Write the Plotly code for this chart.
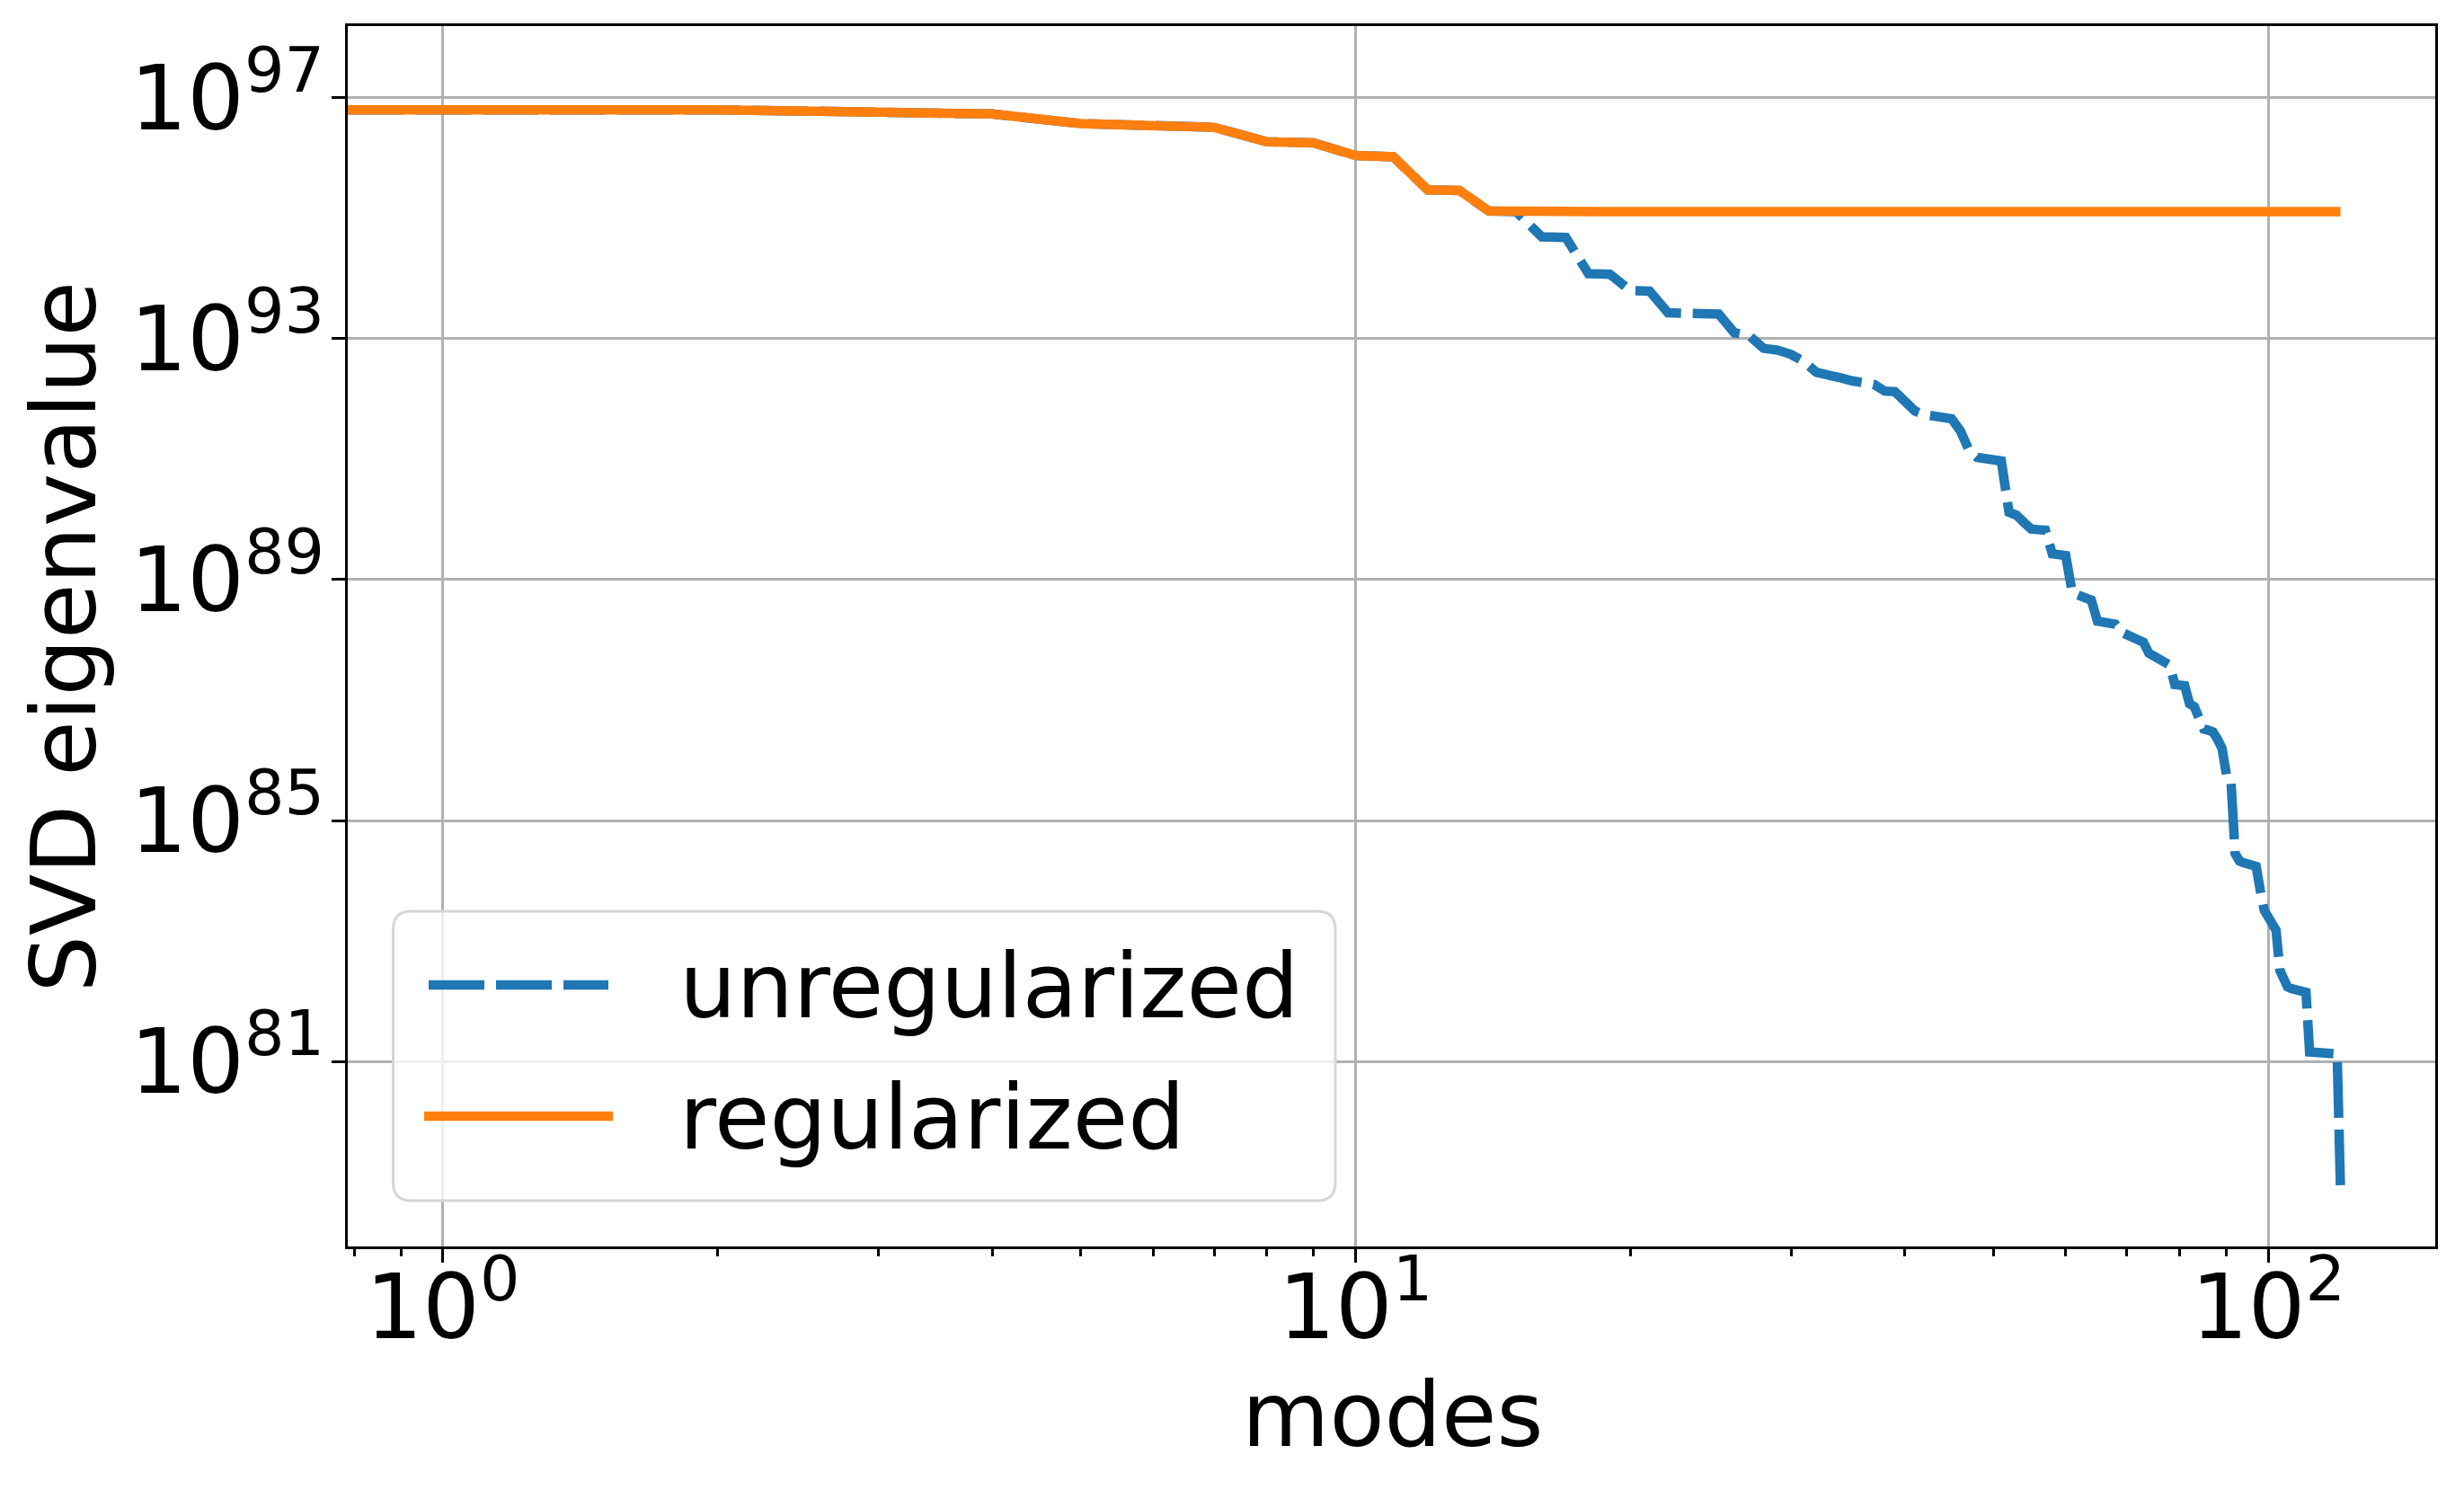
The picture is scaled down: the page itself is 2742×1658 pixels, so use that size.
import numpy as np
import plotly.graph_objects as go

# log10 of the SVD eigenvalues, modes 1..120
log_unreg = [
    96.80, 96.80, 96.76, 96.73, 96.57, 96.53, 96.51, 96.27, 96.25, 96.04,  # 1-10
    96.02, 95.47, 95.46, 95.12, 95.11, 94.69, 94.68, 94.08, 94.07, 93.80,  # 11-20
    93.79, 93.43, 93.42, 93.42, 93.41, 93.10, 93.05, 92.84, 92.81, 92.74,  # 21-30
    92.62, 92.44, 92.41, 92.35, 92.30, 92.27, 92.24, 92.13, 92.12, 91.96,  # 31-40
    91.80, 91.74, 91.72, 91.70, 91.67, 91.47, 91.15, 91.03, 91.00, 90.98,  # 41-50
    90.97, 90.12, 90.07, 89.95, 89.84, 89.83, 89.82, 89.43, 89.41, 89.40,  # 51-60
    88.78, 88.74, 88.70, 88.66, 88.31, 88.29, 88.27, 88.26, 88.13, 88.09,  # 61-70
    88.06, 88.00, 87.96, 87.78, 87.72, 87.68, 87.64, 87.58, 87.26, 87.25,  # 71-80
    87.24, 86.94, 86.89, 86.70, 86.52, 86.50, 86.47, 86.35, 86.20, 85.76,  # 81-90
    85.70, 84.45, 84.33, 84.30, 84.28, 84.26, 84.24, 83.85, 83.51, 83.40,  # 91-100
    83.25, 83.18, 82.51, 82.35, 82.24, 82.21, 82.19, 82.17, 82.16, 82.15,  # 101-110
    81.16, 81.16, 81.15, 81.15, 81.15, 81.14, 81.14, 81.13, 81.12, 78.88,  # 111-120
]
reg_floor = 95.11  # regularized spectrum is cut off here

y_ticks = [81, 85, 89, 93, 97]
x_ticks = [0, 1, 2]

X_RANGE = [-0.104, 2.183]
Y_RANGE = [77.93, 98.19]

FONT = "DejaVu Sans"
BLUE = "#1f77b4"
ORANGE = "#ff7f0e"
DASH = "62px,13px"
LW = 10.5

modes = np.arange(1, len(log_unreg) + 1)
unreg = 10.0 ** np.array(log_unreg)
reg = np.maximum(unreg, 10.0 ** reg_floor)

# matplotlib drew the curve right up to the left spine, do the same
x_plot = np.concatenate([[10.0 ** X_RANGE[0]], modes])
unreg_plot = np.concatenate([[unreg[0]], unreg])
reg_plot = np.concatenate([[reg[0]], reg])

fig = go.Figure()
fig.add_trace(go.Scatter(x=x_plot, y=unreg_plot, mode="lines", name="unregularized",
                         line=dict(color=BLUE, width=LW, dash=DASH), showlegend=False))
fig.add_trace(go.Scatter(x=x_plot, y=reg_plot, mode="lines", name="regularized",
                         line=dict(color=ORANGE, width=LW), showlegend=False))

W, H = 2742, 1658
L, R, T, B = 387, 32, 29, 271


def px(xp):
    return (xp - L) / (W - L - R)


def py(yp):
    return (H - B - yp) / (H - T - B)


axis_common = dict(
    type="log", showgrid=True, gridcolor="#b0b0b0", gridwidth=3,
    showline=True, linecolor="black", linewidth=3, mirror=True,
    ticks="outside", ticklen=15, tickwidth=3, tickcolor="black",
    tickfont=dict(family=FONT, size=100, color="black"),
    zeroline=False, automargin=False,
)

fig.update_layout(
    width=W, height=H,
    margin=dict(l=L, r=R, t=T, b=B),
    plot_bgcolor="white", paper_bgcolor="white",
    font=dict(family=FONT, size=100, color="black"),
    xaxis=dict(
        axis_common, range=X_RANGE,
        tickvals=[10.0 ** k for k in x_ticks],
        ticktext=["10<sup>%d</sup>" % k for k in x_ticks],
        ticklabelstandoff=-36,
        minor=dict(ticks="outside", ticklen=8, tickwidth=2.5, tickcolor="black",
                   dtick="D1", showgrid=False),
    ),
    yaxis=dict(
        axis_common, range=Y_RANGE,
        tickvals=[10.0 ** k for k in y_ticks],
        ticktext=["10<sup>%d</sup>" % k for k in y_ticks],
        ticklabelstandoff=-12,
    ),
)

# axis titles
fig.add_annotation(text="modes", xref="paper", yref="paper", showarrow=False,
                   x=px(1550), y=py(1609 - 34.6), xanchor="center", yanchor="middle",
                   font=dict(family=FONT, size=100, color="black"))
fig.add_annotation(text="SVD eigenvalue", xref="paper", yref="paper", showarrow=False,
                   textangle=-90, x=px(106 - 34.6), y=py(708),
                   xanchor="center", yanchor="middle",
                   font=dict(family=FONT, size=100, color="black"))

# legend box drawn by hand (matplotlib-style rounded frame, long line samples)
x0, x1, y0, y1 = px(437.5), px(1486), py(1014), py(1336)
rx, ry = 20 / (W - L - R), 20 / (H - T - B)
box = (f"M{x0+rx},{y0} L{x1-rx},{y0} Q{x1},{y0} {x1},{y0-ry} "
       f"L{x1},{y1+ry} Q{x1},{y1} {x1-rx},{y1} L{x0+rx},{y1} "
       f"Q{x0},{y1} {x0},{y1+ry} L{x0},{y0-ry} Q{x0},{y0} {x0+rx},{y0} Z")
fig.add_shape(type="path", path=box, xref="paper", yref="paper",
              fillcolor="rgba(255,255,255,0.8)", line=dict(color="#d6d6d6", width=3))
fig.add_shape(type="line", xref="paper", yref="paper",
              x0=px(477), x1=px(677), y0=py(1096), y1=py(1096),
              line=dict(color=BLUE, width=LW, dash=DASH))
fig.add_shape(type="line", xref="paper", yref="paper",
              x0=px(472), x1=px(682), y0=py(1242), y1=py(1242),
              line=dict(color=ORANGE, width=LW))
for label, yb in [("unregularized", 1131.7), ("regularized", 1278)]:
    fig.add_annotation(text=label, xref="paper", yref="paper", showarrow=False,
                       x=px(754), y=py(yb - 34.6), xanchor="left", yanchor="middle",
                       font=dict(family=FONT, size=100, color="black"))

# the page body has an 8px default margin; drop it so the figure fills the window
fig.write_html("out.html", config={"displayModeBar": False},
               post_script="document.body.style.margin='0px';")
